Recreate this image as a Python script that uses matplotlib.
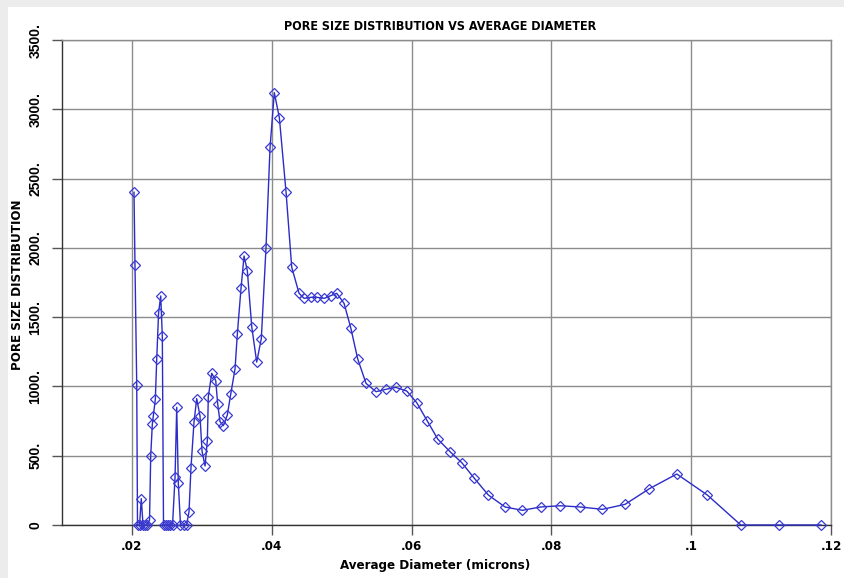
import matplotlib
matplotlib.use("Agg")
import matplotlib.pyplot as plt
from matplotlib.patches import Rectangle
from matplotlib.ticker import FixedLocator, FixedFormatter
from matplotlib import font_manager as fm

diameter = [0.02030, 0.02044, 0.02069, 0.02080, 0.02109, 0.02134, 0.02159, 0.02187,
            0.02216, 0.02252, 0.02269, 0.02292, 0.02306, 0.02335, 0.02355, 0.02381,
            0.02412, 0.02435, 0.02452, 0.02481, 0.02516, 0.02552, 0.02581, 0.02617,
            0.02641, 0.02664, 0.02695, 0.02738, 0.02781, 0.02817, 0.02845, 0.02888,
            0.02927, 0.02974, 0.03003, 0.03046, 0.03079, 0.03093, 0.03142, 0.03199,
            0.03227, 0.03260, 0.03308, 0.03365, 0.03413, 0.03475, 0.03508, 0.03561,
            0.03604, 0.03651, 0.03714, 0.03785, 0.03851, 0.03918, 0.03976, 0.04037,
            0.04109, 0.04205, 0.04286, 0.04391, 0.04462, 0.04558, 0.04644, 0.04753,
            0.04844, 0.04930, 0.05034, 0.05130, 0.05230, 0.05349, 0.05492, 0.05631,
            0.05774, 0.05931, 0.06074, 0.06226, 0.06375, 0.06551, 0.06718, 0.06898,
            0.07099, 0.07338, 0.07585, 0.07848, 0.08124, 0.08415, 0.08730, 0.09054,
            0.09402, 0.09794, 0.10232, 0.10710, 0.11258, 0.11858]
distribution = [2401, 1876, 1010, 0, 0, 190, 0, 0,
                0, 36, 498, 727, 787, 907, 1196, 1528,
                1653, 1364, 0, 0, 0, 0, 0, 346,
                849, 301, 0, 0, 0, 96, 414, 741,
                912, 787, 534, 426, 609, 926, 1095, 1042,
                873, 746, 717, 794, 943, 1126, 1378, 1710,
                1941, 1836, 1431, 1176, 1345, 1999, 2726, 3120,
                2940, 2401, 1860, 1672, 1636, 1643, 1643, 1636,
                1655, 1672, 1600, 1424, 1198, 1022, 962, 979,
                993, 967, 883, 750, 620, 529, 450, 337,
                216, 130, 106, 130, 139, 130, 113, 149,
                262, 368, 216, 0, 0, 0]

x_ticks = [0.02, 0.04, 0.06, 0.08, 0.10, 0.12]
x_tick_labels = [".02", ".04", ".06", ".08", ".1", ".12"]
y_ticks = [0, 500, 1000, 1500, 2000, 2500, 3000, 3500]
y_tick_labels = ["0", "500.", "1000.", "1500.", "2000.", "2500.", "3000.", "3500."]

title = "PORE SIZE DISTRIBUTION VS AVERAGE DIAMETER"
x_label = "Average Diameter (microns)"
y_label = "PORE SIZE DISTRIBUTION"

# choose a condensed bold face if one is installed
cond_fp = fm.FontProperties(family="DejaVu Sans", stretch="condensed", weight="bold")
cond_path = fm.findfont(cond_fp, fallback_to_default=True)
HAVE_COND = "ondensed" in cond_path


def narrow_props(size):
    if HAVE_COND:
        return fm.FontProperties(fname=cond_path, size=size)
    return fm.FontProperties(family=["Liberation Sans", "DejaVu Sans"], weight="bold",
                             size=size * 0.9)


fig = plt.figure(figsize=(8.45, 5.78), dpi=100)
fig.patch.set_facecolor("white")
fig.patches.append(Rectangle((0, 0), 8 / 845, 1, transform=fig.transFigure,
                             facecolor="#ececec", edgecolor="none", zorder=0))
fig.patches.append(Rectangle((0, 1 - 7 / 578), 1, 7 / 578, transform=fig.transFigure,
                             facecolor="#ececec", edgecolor="none", zorder=0))

ax = fig.add_axes([62 / 845, (578 - 525) / 578, (831 - 62) / 845, (525 - 40) / 578])
ax.plot(diameter, distribution, color="#2b2bc8", lw=1.0, marker="D", ms=4.8,
        mfc="none", mec="#3a3ad0", mew=0.9, zorder=3, clip_on=False)

ax.set_xlim(0.01, 0.12)
ax.set_ylim(0, 3500)
ax.xaxis.set_major_locator(FixedLocator(x_ticks))
ax.xaxis.set_major_formatter(FixedFormatter(x_tick_labels))
ax.yaxis.set_major_locator(FixedLocator(y_ticks))
ax.yaxis.set_major_formatter(FixedFormatter(y_tick_labels))

ax.grid(True, color="#8c8c8c", lw=1.0)
ax.set_axisbelow(True)
for s in ["left", "bottom"]:
    ax.spines[s].set_color("#333333")
    ax.spines[s].set_linewidth(1.0)
for s in ["top", "right"]:
    ax.spines[s].set_color("#8c8c8c")
    ax.spines[s].set_linewidth(1.0)

ax.tick_params(axis="both", direction="out", length=7, width=1.0, color="#555555")
ax.tick_params(axis="x", pad=4)
ax.tick_params(axis="y", pad=7)
for lbl in ax.get_xticklabels():
    lbl.set_fontproperties(narrow_props(9.5))
for lbl in ax.get_yticklabels():
    lbl.set_fontfamily(["Liberation Sans", "DejaVu Sans"])
    lbl.set_fontweight("bold")
    lbl.set_fontsize(10)
    lbl.set_rotation(90)
    lbl.set_va("center")

fig.text(440 / 845, 1 - 27 / 578, title, fontproperties=narrow_props(9),
         ha="center", va="center")
fig.text(435 / 845, 1 - 566 / 578, x_label, fontproperties=narrow_props(9.5),
         ha="center", va="center")
fig.text(18 / 845, 1 - 285 / 578, y_label, fontproperties=narrow_props(9.5),
         ha="center", va="center", rotation=90)

fig.savefig("out.png", dpi=100)
